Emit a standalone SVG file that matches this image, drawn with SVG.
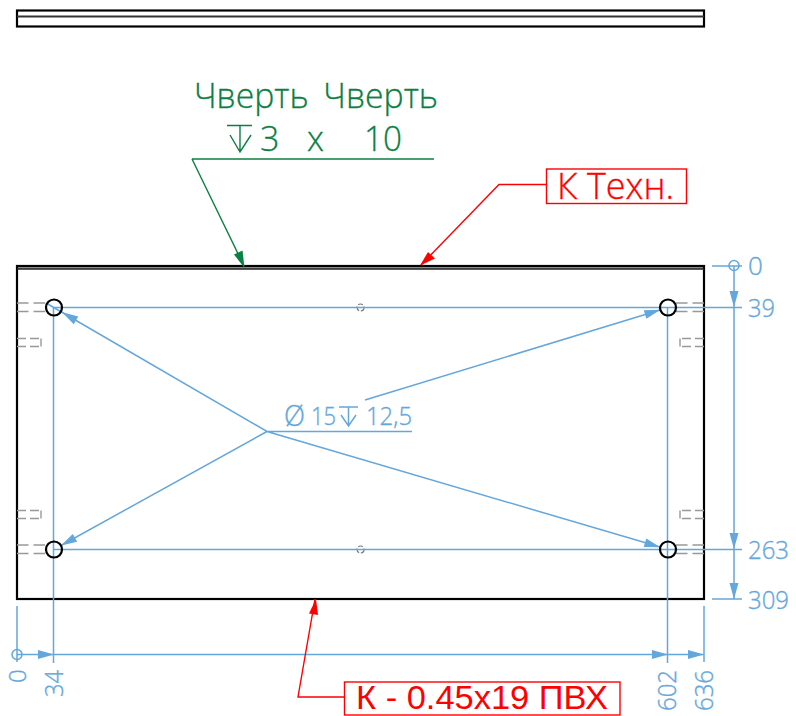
<svg xmlns="http://www.w3.org/2000/svg" width="796" height="716" viewBox="0 0 796 716">
<style>
text{font-family:"Open Sans","Noto Sans","Liberation Sans",sans-serif;font-weight:300}
.k{fill:none;stroke:#000;stroke-width:2.200}
.h{fill:none;stroke:#999;stroke-width:1.400;stroke-dasharray:11.500 5}
.h2{fill:none;stroke:#999;stroke-width:1.400;stroke-dasharray:9 4}
.hs{fill:none;stroke:#999;stroke-width:1.400}
.b{fill:none;stroke:#64a7dc;stroke-width:1.500}
.bf{fill:#64a7dc;stroke:none}
.bt{fill:#64a7dc;font-size:26px;stroke:#64a7dc;stroke-width:.35}
.gt{fill:#0b8043;font-size:34px;stroke:#0b8043;stroke-width:.3}
.rt{fill:#f00;stroke:#f00;stroke-width:.3}
.g{fill:none;stroke:#0b8043;stroke-width:1.400}
.r{fill:none;stroke:#f00;stroke-width:1.400}
.hole{fill:none;stroke:#000;stroke-width:2.200}
</style>
<rect width="796" height="716" fill="#fff"/>
<g id="side-view">
<rect class="k" x="17" y="10.500" width="687" height="16"/>
<path d="M17 16.500H704" fill="none" stroke="#333" stroke-width="2"/>
</g>
<g id="plate">
<rect x="17" y="266" width="687" height="3" fill="#999"/>
<rect class="k" x="17" y="266" width="687" height="333"/>
<path d="M17 269H704" fill="none" stroke="#222" stroke-width="1.500"/>
</g>
<g id="hidden-slots">
<path class="h" d="M17 303H47M17 311.500H47M17 545H47M17 553.500H47M704 303H675M704 311.500H675M704 545H675M704 553.500H675"/>
<path class="h2" d="M17 338.500H41M17 346.500H41M17 510.500H41M17 518.500H41M704 338.500H680M704 346.500H680M704 510.500H680M704 518.500H680"/>
<path class="hs" d="M41 338.500V346.500M41 510.500V518.500M680 338.500V346.500M680 510.500V518.500"/>
</g>
<g id="center-marks">
<circle cx="360.500" cy="307.500" r="3.500" fill="none" stroke="#777" stroke-width="1.200" stroke-dasharray="5 1.800"/>
<circle cx="360.500" cy="549.500" r="3.500" fill="none" stroke="#777" stroke-width="1.200" stroke-dasharray="5 1.800"/>
</g>
<g id="connectors">
<path class="b" d="M54 307.500H742M54 549.500H742M53.500 307.500V663M667.500 307.500V663M712 266H742M712 599H742M17 606V662M704 606V662M17 654.500H704M734 266V599"/>
<circle class="b" cx="734" cy="265.500" r="5"/>
<circle class="b" cx="17" cy="654.500" r="5"/>
<path class="b" d="M267 431.500H412M46 303L267 431.500L660 547M267 431.500L61 545.500M365 400L660 310"/>
<path class="bf" d="M734 307L729.500 291H738.500ZM734 549L729.500 533H738.500ZM734 599L729.500 583H738.500ZM54 654.500L38 650V659ZM668 654.500L652 650V659ZM704 654.500L688 650V659Z"/>
<path class="bf" d="M62.200 312.300L78.300 316.400L73.700 324.200ZM61 545.600L77.200 541.700L72.800 533.900ZM660.300 547.200L646.300 538.400L643.700 547ZM660.400 309.800L646.400 318.800L643.800 310.200Z"/>
<path class="g" d="M192 159H434M192 159L244 266"/>
<path d="M244.500 268L234 254.500L242.500 250.500Z" fill="#0b8043"/>
<path class="r" d="M546 184.500H499L421 265"/>
<path d="M420 265.500L428 252L435 258.500Z" fill="#f00"/>
<path class="r" d="M345 697H298L315 599"/>
<path d="M316 599L309 613.500L318 615Z" fill="#f00"/>
</g>
<g id="holes">
<circle class="hole" cx="54" cy="307.500" r="8"/>
<circle class="hole" cx="668" cy="307.500" r="8"/>
<circle class="hole" cx="54" cy="549.500" r="8"/>
<circle class="hole" cx="668" cy="549.500" r="8"/>
</g>
<g id="dimension-labels">
<text class="bt" x="748" y="274.500">0</text>
<text class="bt" x="748" y="316.500" textLength="27" lengthAdjust="spacingAndGlyphs">39</text>
<text class="bt" x="748" y="558.500" textLength="41" lengthAdjust="spacingAndGlyphs">263</text>
<text class="bt" x="748" y="608.500" textLength="41" lengthAdjust="spacingAndGlyphs">309</text>
<text class="bt" transform="translate(26,683) rotate(-90)" style="font-size:24px">0</text>
<text class="bt" transform="translate(63,697) rotate(-90)" textLength="27" lengthAdjust="spacingAndGlyphs">34</text>
<text class="bt" transform="translate(676,711) rotate(-90)" textLength="41" lengthAdjust="spacingAndGlyphs">602</text>
<text class="bt" transform="translate(713,711) rotate(-90)" textLength="41" lengthAdjust="spacingAndGlyphs">636</text>
</g>
<g id="hole-callout">
<text class="bt" x="284" y="426" style="font-size:29px" textLength="21" lengthAdjust="spacingAndGlyphs">Ø</text>
<text class="bt" x="311" y="425" textLength="25" lengthAdjust="spacingAndGlyphs">15</text>
<path class="b" d="M339 407H358M341 415L348.500 426L356 415M348.500 407V426"/>
<text class="bt" x="366" y="425" textLength="46" lengthAdjust="spacingAndGlyphs">12,5</text>
</g>
<g id="pocket-callout">
<text class="gt" x="194" y="108" textLength="244" lengthAdjust="spacingAndGlyphs" word-spacing="6">Чверть Чверть</text>
<path class="g" d="M227 125.500H252M230 135L240 152L251 135M240 126V152"/>
<text class="gt" x="260" y="150.500">3</text>
<text class="gt" x="307" y="150.500">x</text>
<text class="gt" x="364" y="150.500" textLength="38" lengthAdjust="spacingAndGlyphs">10</text>
</g>
<g id="edge-label-top">
<rect x="546.500" y="169" width="140" height="34.500" fill="#fff" stroke="#f00" stroke-width="1.400"/>
<text class="rt" x="557" y="199" font-size="36" textLength="117" lengthAdjust="spacingAndGlyphs">К Техн.</text>
</g>
<g id="edge-label-bottom">
<rect x="344.500" y="682" width="275.500" height="33" fill="#fff" stroke="#f00" stroke-width="1.400"/>
<text x="356" y="708.500" font-size="34" fill="#f00" style="font-family:'Liberation Sans',sans-serif;font-weight:400" textLength="252" lengthAdjust="spacingAndGlyphs">К - 0.45х19 ПВХ</text>
</g>
</svg>
